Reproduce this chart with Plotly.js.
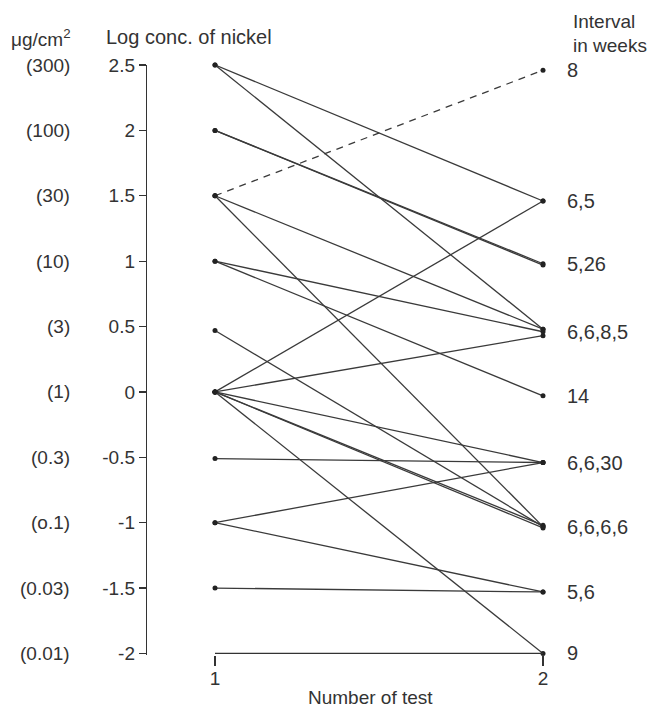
<!DOCTYPE html>
<html>
<head>
<meta charset="utf-8">
<script src="https://cdn.plot.ly/plotly-3.0.1.min.js"></script>
<style>html,body{margin:0;padding:0;background:#fff;}#chart{width:652px;height:709px;}</style>
</head>
<body>
<div id="chart"></div>
<script>
// Log concentration of nickel at test 1 and test 2, one entry per subject
const test1 = [2.5, 2.5, 2, 2, 1.5, 1.5, 1.5, 1, 1, 0.47, 0, 0, 0, 0, 0, 0, -0.51, -1, -1, -1.5];
const test2 = [1.46, 0.48, 0.98, 0.97, 2.46, 0.48, -1.03, 0.46, -0.03, -1.03, 1.46, 0.43, -0.54, -1.02, -1.04, -2.0, -0.54, -0.54, -1.53, -1.53];
const dashed = [false, false, false, false, true, false, false, false, false, false, false, false, false, false, false, false, false, false, false, false];

// Left axis
const yTickVals = [2.5, 2, 1.5, 1, 0.5, 0, -0.5, -1, -1.5, -2];
const yTickText = ["2.5", "2", "1.5", "1", "0.5", "0", "-0.5", "-1", "-1.5", "-2"];
const concLabels = ["(300)", "(100)", "(30)", "(10)", "(3)", "(1)", "(0.3)", "(o.1)", "(0.03)", "(0.01)"];

// Right-side interval labels
const intervalLabels = ["8", "6,5", "5,26", "6,6,8,5", "14", "6,6,30", "6,6,6,6", "5,6", "9"];
const intervalLevels = [2.46, 1.46, 0.98, 0.46, -0.03, -0.54, -1.03, -1.53, -2.0];

const xTickVals = [1, 2];
const xTickText = ["1", "2"];

const FONT = '"Liberation Sans", Arial, Helvetica, sans-serif';
const INK = '#333333';

const traces = test1.map((v, i) => ({
  type: 'scatter',
  mode: 'lines+markers',
  x: [1, 2],
  y: [v, test2[i]],
  line: {color: '#3a3a3a', width: 1.3, dash: dashed[i] ? '7px,6px' : 'solid'},
  marker: {color: '#222', size: 5},
  cliponaxis: false,
  hoverinfo: 'skip',
  showlegend: false
}));

// plot area pixel helpers (l=147, plot width 505, top=65, height 590)
const px = p => (p - 147) / 505;
const py = p => (655 - p) / 590;

const annotations = [];
concLabels.forEach((t, i) => annotations.push({
  text: t, xref: 'paper', yref: 'y', x: px(72), y: yTickVals[i],
  xanchor: 'right', yanchor: 'middle', showarrow: false,
  font: {family: FONT, size: 19, color: INK}
}));
intervalLabels.forEach((t, i) => annotations.push({
  text: t, xref: 'x', yref: 'y', x: 2, y: intervalLevels[i], xshift: 22,
  xanchor: 'left', yanchor: 'middle', showarrow: false,
  font: {family: FONT, size: 20, color: INK}
}));
annotations.push(
  {text: 'μg/cm<sup>2</sup>', xref: 'paper', yref: 'paper', x: px(9), y: py(38), xanchor: 'left', yanchor: 'middle', showarrow: false, font: {family: FONT, size: 19, color: INK}},
  {text: 'Log conc. of nickel', xref: 'paper', yref: 'paper', x: px(104), y: py(37), xanchor: 'left', yanchor: 'middle', showarrow: false, font: {family: FONT, size: 20, color: INK}},
  {text: 'Interval', xref: 'paper', yref: 'paper', x: px(571), y: py(22), xanchor: 'left', yanchor: 'middle', showarrow: false, font: {family: FONT, size: 19, color: INK}},
  {text: 'in weeks', xref: 'paper', yref: 'paper', x: px(571), y: py(45), xanchor: 'left', yanchor: 'middle', showarrow: false, font: {family: FONT, size: 19, color: INK}},
  {text: 'Number of test', xref: 'paper', yref: 'paper', x: px(370), y: py(697), xanchor: 'center', yanchor: 'middle', showarrow: false, font: {family: FONT, size: 19, color: INK}}
);

const layout = {
  width: 652, height: 709,
  margin: {l: 147, r: 0, t: 65, b: 54},
  paper_bgcolor: '#fff', plot_bgcolor: '#fff',
  font: {family: FONT, color: INK},
  showlegend: false,
  xaxis: {
    range: [1 - 68 / 328, 1 - 68 / 328 + 505 / 328],
    showgrid: false, zeroline: false, showline: false,
    tickmode: 'array', tickvals: xTickVals, ticktext: xTickText,
    ticks: 'outside', ticklen: 10, tickwidth: 1.2, tickcolor: INK,
    ticklabelstandoff: -4,
    tickfont: {family: FONT, size: 19, color: INK}
  },
  yaxis: {
    range: [-2.012, 2.5],
    showgrid: false, zeroline: false,
    showline: true, linecolor: INK, linewidth: 1.2,
    tickmode: 'array', tickvals: yTickVals, ticktext: yTickText,
    ticks: 'outside', ticklen: 7, tickwidth: 1.2, tickcolor: INK,
    tickfont: {family: FONT, size: 19, color: INK}
  },
  shapes: [
    {type: 'line', xref: 'x', yref: 'y', x0: xTickVals[0], x1: xTickVals[1], y0: -2, y1: -2,
     line: {color: INK, width: 1.2}}
  ],
  annotations: annotations
};

Plotly.newPlot('chart', traces, layout, {displayModeBar: false, staticPlot: true});
</script>
</body>
</html>
